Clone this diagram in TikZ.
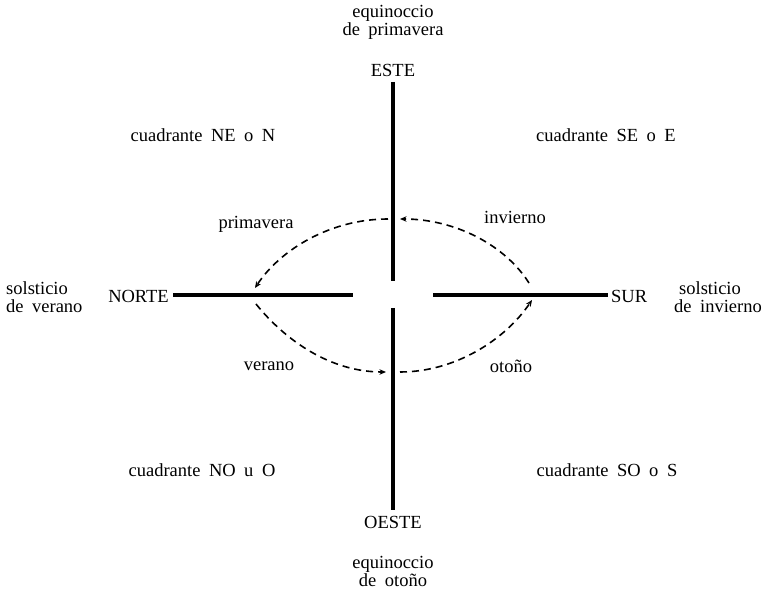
\documentclass[tikz,border=0pt]{standalone}
\usepackage{fontspec}
\setmainfont{Liberation Serif}
\usetikzlibrary{arrows.meta}
\newcommand\labelfont{\fontsize{18.5}{18}\selectfont\spaceskip=8.5pt plus 2pt\relax}
\begin{document}
\begin{tikzpicture}[x=1pt,y=-1pt,font=\labelfont,
  axis/.style={line width=3.2pt},
  season/.style={line width=1.6pt,dash pattern=on 7pt off 5pt,-{Stealth[length=6.5pt,width=5.5pt]}},
  lbl/.style={inner sep=0pt,align=center},
  twoline/.style={inner sep=0pt,align=left}]
\useasboundingbox (0,0) rectangle (769,593);
% axes
\coordinate (et) at (393,82);  \coordinate (ec) at (393,281);
\coordinate (oc) at (393,308); \coordinate (ob) at (393,510);
\coordinate (nb) at (173,295); \coordinate (nc) at (353,295);
\coordinate (sc) at (433,295); \coordinate (sb) at (608,295);
\draw[axis] (et)--(ec) (oc)--(ob) (nb)--(nc) (sc)--(sb);
% seasons
\coordinate (inv0) at (529,283); \coordinate (inv1) at (400,219);
\coordinate (pri0) at (388,219); \coordinate (pri1) at (255,288);
\coordinate (ver0) at (256,304); \coordinate (ver1) at (386,372);
\coordinate (oto0) at (400,372); \coordinate (oto1) at (532,300);
\draw[season] (inv0)..controls (505,245) and (455,219)..(inv1);
\draw[season] (pri0)..controls (330,219) and (280,250)..(pri1);
\draw[season] (ver0)..controls (285,340) and (330,372)..(ver1);
\draw[season] (oto0)..controls (455,372) and (505,340)..(oto1);
% labels
\node[lbl] (eqp) at (393,22) {equinoccio\\de primavera};
\node[lbl] (este) at (393,70) {ESTE};
\node[lbl] (oeste) at (393,522) {OESTE};
\node[lbl] (eqo) at (393,571) {equinoccio\\de otoño};
\node[lbl,anchor=east] (norte) at (169,296) {NORTE};
\node[lbl,anchor=west] (sur) at (611,296) {SUR};
\node[twoline,anchor=west] (solv) at (6,297) {solsticio\\de verano};
\node[twoline,anchor=west] (soli) at (674,297) {\hspace*{5pt}solsticio\\de invierno};
\node[lbl] (qne) at (203,135) {cuadrante NE o N};
\node[lbl] (qse) at (606,135) {cuadrante SE o E};
\node[lbl] (qno) at (202,470) {cuadrante NO u O};
\node[lbl] (qso) at (607,470) {cuadrante SO o S};
\node[lbl] (tpri) at (256,224) {primavera};
\node[lbl] (tinv) at (515,217) {invierno};
\node[lbl] (tver) at (269,366) {verano};
\node[lbl] (toto) at (511,366) {otoño};
\end{tikzpicture}
\end{document}
